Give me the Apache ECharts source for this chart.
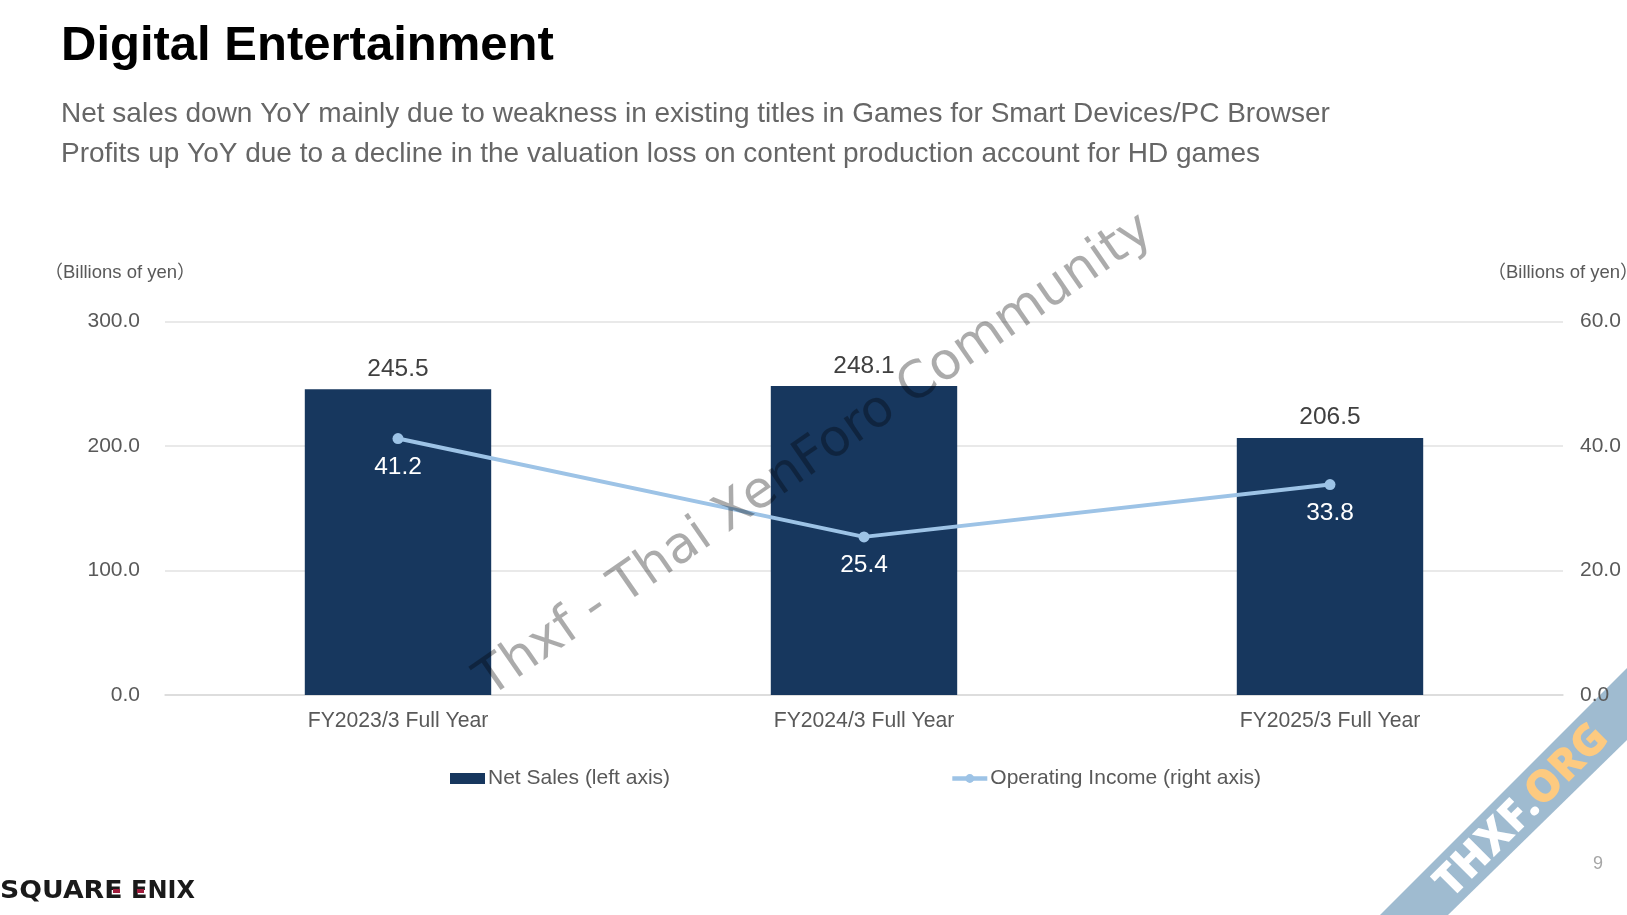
<!DOCTYPE html>
<html>
<head>
    <meta charset="utf-8">
    <title>Digital Entertainment</title>
    <script src="https://cdn.jsdelivr.net/npm/echarts@6/dist/echarts.min.js"></script>
</head>
<body style="margin:0;padding:0;background:#fff;">
    <div id="main" style="width:1627px;height:915px;"></div>
    <script type="text/javascript">
    var categories = ['FY2023/3 Full Year', 'FY2024/3 Full Year', 'FY2025/3 Full Year'];
    var netSales = [245.5, 248.1, 206.5];
    var operatingIncome = [41.2, 25.4, 33.8];
    var leftTicks = { min: 0, max: 300, interval: 100 };
    var rightTicks = { min: 0, max: 60, interval: 20 };
    var titleText = 'Digital Entertainment';
    var subLines = [
        'Net sales down YoY mainly due to weakness in existing titles in Games for Smart Devices/PC Browser',
        'Profits up YoY due to a decline in the valuation loss on content production account for HD games'
    ];

    var font = '"Liberation Sans", Arial, "Noto Sans CJK JP", sans-serif';
    var grey = '#595959';
    var myChart = echarts.init(document.getElementById('main'), null, { renderer: 'canvas' });

    function fixed1(v) {
        return v.value !== undefined ? v.value.toFixed(1) : v.toFixed(1);
    }

    var option = {
        backgroundColor: '#ffffff',
        animation: false,
        textStyle: { fontFamily: font },
        // v6 shrinks the grid to fit the right axis name otherwise
        grid: { left: 165, right: 64, top: 321.5, bottom: 220, outerBoundsMode: 'none' },
        legend: {
            left: 445,
            top: 763,
            itemWidth: 35,
            itemHeight: 11,
            itemGap: 280,
            lineStyle: { width: 4.5 },
            textStyle: { color: grey, fontSize: 21, fontFamily: font, padding: [0, 0, 0, -2] },
            data: [{ name: 'Net Sales (left axis)', icon: 'rect' }, { name: 'Operating Income (right axis)' }]
        },
        xAxis: {
            type: 'category',
            data: categories,
            axisTick: { show: false },
            axisLine: { lineStyle: { color: '#d9d9d9', width: 1.5 } },
            axisLabel: { color: grey, fontSize: 21.2, margin: 16, fontFamily: font }
        },
        yAxis: [{
            type: 'value',
            min: leftTicks.min,
            max: leftTicks.max,
            interval: leftTicks.interval,
            name: '（Billions of yen）',
            nameLocation: 'end',
            nameGap: 39,
            nameTextStyle: { color: grey, fontSize: 18.5, fontFamily: font, align: 'center', padding: [0, 90, 0, 0] },
            axisLine: { show: false },
            axisTick: { show: false },
            axisLabel: { color: grey, fontSize: 21, margin: 25, fontFamily: font, formatter: function (v) { return v.toFixed(1); } },
            splitLine: { lineStyle: { color: '#e2e2e2', width: 1.5 } }
        }, {
            type: 'value',
            min: rightTicks.min,
            max: rightTicks.max,
            interval: rightTicks.interval,
            name: '（Billions of yen）',
            nameLocation: 'end',
            nameGap: 39,
            nameTextStyle: { color: grey, fontSize: 18.5, fontFamily: font, align: 'center' },
            axisLine: { show: false },
            axisTick: { show: false },
            axisLabel: { color: grey, fontSize: 21, margin: 17, fontFamily: font, formatter: function (v) { return v.toFixed(1); } },
            splitLine: { show: false }
        }],
        series: [{
            name: 'Net Sales (left axis)',
            type: 'bar',
            yAxisIndex: 0,
            data: netSales,
            barWidth: '40%',
            itemStyle: { color: '#17375e' },
            label: { show: true, position: 'top', distance: 8, color: '#404040', fontSize: 24.5, fontFamily: font, formatter: fixed1 }
        }, {
            name: 'Operating Income (right axis)',
            type: 'line',
            yAxisIndex: 1,
            data: operatingIncome,
            symbol: 'circle',
            symbolSize: 11,
            lineStyle: { color: '#9dc3e6', width: 4 },
            itemStyle: { color: '#9dc3e6' },
            label: { show: true, position: 'bottom', distance: 10.5, color: '#ffffff', fontSize: 24.5, fontFamily: font, formatter: fixed1 }
        }],
        graphic: [
            { type: 'text', left: 61, top: 22, z: 10, style: { text: titleText, fill: '#000000', fontSize: 49, fontWeight: 'bold', fontFamily: font } },
            { type: 'text', left: 61, top: 100, z: 10, style: { text: subLines[0], fill: '#666666', fontSize: 28, fontFamily: font } },
            { type: 'text', left: 61, top: 140, z: 10, style: { text: subLines[1], fill: '#666666', fontSize: 28, fontFamily: font } },
            // corner ribbon
            { type: 'polygon', z: 0, shape: { points: [[1627, 668], [1380, 915], [1448, 915], [1627, 740]] }, style: { fill: '#9fbbd0' } },
            { type: 'text', x: 1522, y: 811, rotation: Math.PI / 4, z: 1, style: {
                text: '{a|THXF.}{b|ORG}', align: 'center', verticalAlign: 'middle',
                rich: {
                    a: { fill: '#ffffff', fontSize: 44, fontWeight: 800, fontFamily: '"Open Sans", sans-serif' },
                    b: { fill: '#fdca80', fontSize: 44, fontWeight: 800, fontFamily: '"Open Sans", sans-serif' }
                }
            } },
            // watermark, drawn over the chart
            { type: 'text', x: 815, y: 456, rotation: 34.7 * Math.PI / 180, z: 100, style: {
                text: 'Thxf - Thai XenForo Community', align: 'center', verticalAlign: 'middle',
                fill: 'rgba(0,0,0,0.33)', fontSize: 51.3, fontFamily: '"DejaVu Sans", sans-serif'
            } },
            // logo
            { type: 'text', x: 0, y: 891, scaleX: 1.07, z: 10, style: { text: 'SQUARE', verticalAlign: 'middle', fill: '#1a1a1a', fontSize: 25, fontWeight: 'bold', fontFamily: '"DejaVu Sans", sans-serif' } },
            { type: 'text', x: 131, y: 891, scaleX: 0.96, z: 10, style: { text: 'ENIX', verticalAlign: 'middle', fill: '#1a1a1a', fontSize: 25, fontWeight: 'bold', fontFamily: '"DejaVu Sans", sans-serif' } },
            { type: 'rect', z: 11, shape: { x: 113, y: 889, width: 7, height: 4 }, style: { fill: '#a01c3c' } },
            { type: 'rect', z: 11, shape: { x: 137, y: 889, width: 7, height: 4 }, style: { fill: '#a01c3c' } },
            // page number
            { type: 'text', left: 1593, top: 855, z: 10, style: { text: '9', fill: '#a6a6a6', fontSize: 18, fontFamily: font } }
        ]
    };
    myChart.setOption(option);
    </script>
</body>
</html>
